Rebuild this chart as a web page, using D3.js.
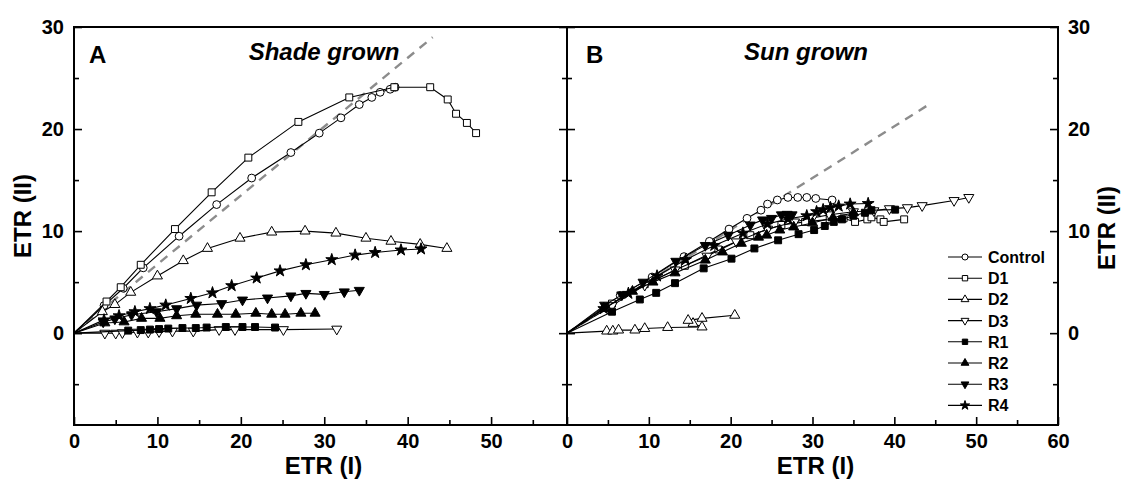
<!DOCTYPE html>
<html>
<head>
<meta charset="utf-8">
<script src="https://cdn.jsdelivr.net/npm/d3@7"></script>
<style>
  body { margin: 0; background: #fff; }
  svg { display: block; font-family: "Liberation Sans", Arial, sans-serif; font-weight: bold; }
</style>
</head>
<body>
<svg id="chart" width="1123" height="482"></svg>
<script>
// ---- data (ETR(I), ETR(II)) ----
const seriesNames = ["Control", "D1", "D2", "D3", "R1", "R2", "R3", "R4"];

// Shade grown (panel A)
const shadeControl = [[0,0],[3.6,2.7],[5.9,4.4],[8.3,6.4],[12.6,9.5],[17.1,12.6],[21.3,15.2],[26.0,17.7],[29.4,19.6],[32.0,21.1],[34.2,22.4],[35.7,23.1],[36.7,23.6],[37.9,23.9],[38.5,24.1]];
const shadeD1 = [[0,0],[3.9,3.1],[5.6,4.5],[8.0,6.7],[12.1,10.2],[16.5,13.8],[20.9,17.2],[26.9,20.7],[33.0,23.1],[38.4,24.1],[42.7,24.1],[44.8,22.9],[45.8,21.5],[47.1,20.6],[48.2,19.6]];
const shadeD2 = [[0,0],[3.4,2.1],[4.9,2.8],[6.8,4.0],[10.0,5.6],[13.1,7.1],[16.0,8.3],[19.9,9.3],[23.7,9.9],[27.7,10.0],[31.4,9.8],[35.0,9.3],[38.0,9.0],[41.5,8.7],[44.7,8.3]];
const shadeD3 = [[0,0],[3.7,0.0],[5.0,0.0],[5.8,0.05],[7.6,0.1],[8.9,0.1],[10.2,0.15],[11.8,0.2],[14.3,0.2],[17.4,0.35],[19.3,0.35],[25.1,0.35],[31.5,0.4]];
const shadeR1 = [[0,0],[6.5,0.25],[8.0,0.3],[9.1,0.35],[10.2,0.4],[11.3,0.45],[13.0,0.5],[14.6,0.5],[15.9,0.55],[18.2,0.6],[20.2,0.6],[21.7,0.6],[24.1,0.55]];
const shadeR2 = [[0,0],[3.7,1.0],[6.0,1.1],[8.1,1.45],[10.3,1.45],[12.3,1.7],[14.6,1.85],[17.2,1.85],[19.4,1.85],[21.8,1.95],[23.7,1.85],[25.3,1.85],[27.2,1.95],[28.9,1.95]];
const shadeR3 = [[0,0],[3.5,1.1],[4.9,1.4],[6.9,1.8],[9.9,2.1],[12.3,2.4],[14.7,2.75],[17.7,2.9],[20.2,3.25],[23.2,3.45],[26.0,3.65],[27.8,3.9],[30.0,3.8],[32.4,4.05],[34.2,4.2]];
const shadeR4 = [[0,0],[3.6,1.3],[5.4,1.7],[7.3,2.1],[9.1,2.4],[11.0,2.75],[14.0,3.4],[16.6,3.95],[18.9,4.65],[21.9,5.4],[24.7,6.1],[27.8,6.7],[30.9,7.2],[33.7,7.65],[36.1,7.9],[39.2,8.15],[41.6,8.25]];

// Sun grown (panel B)
const sunControl = [[0,0],[6.5,3.7],[10.4,5.5],[14.3,7.5],[17.4,9.0],[19.8,10.2],[22.0,11.25],[23.7,12.05],[24.5,12.65],[25.7,13.05],[27.0,13.3],[28.2,13.3],[29.3,13.3],[30.4,13.2],[32.4,13.05]];
const sunD1 = [[0,0],[5.5,2.9],[9.5,4.8],[14.4,6.6],[18.5,8.2],[22.4,9.6],[26.2,10.6],[29.1,10.9],[32.1,11.15],[33.8,11.25],[35.2,10.9],[36.7,11.15],[37.2,11.35],[38.3,11.15],[38.7,10.9],[41.2,11.15]];
const sunD2 = [[0,0],[4.85,0.2],[5.6,0.2],[6.3,0.3],[8.3,0.3],[9.5,0.45],[12.3,0.55],[16.5,0.6],[15.4,0.95],[14.8,1.25],[16.5,1.45],[20.5,1.75]];
const sunD3 = [[0,0],[5.5,2.7],[9.5,4.7],[13.2,6.2],[17.1,7.55],[20.7,8.95],[24.5,10.2],[27.8,10.9],[30.0,11.3],[32.1,11.6],[35.0,11.9],[37.5,12.0],[39.4,12.2],[41.6,12.3],[43.4,12.5],[47.3,13.0],[49.1,13.3]];
const sunR1 = [[0,0],[5.5,2.1],[8.9,3.3],[10.9,3.95],[13.2,4.9],[16.7,6.35],[20.1,7.3],[22.9,8.3],[25.8,9.1],[28.3,9.7],[30.2,10.1],[31.5,10.5],[32.6,10.9],[33.6,11.15],[35.0,11.5],[36.4,11.8],[37.2,12.05],[40.1,12.1]];
const sunR2 = [[0,0],[4.5,2.4],[8.0,4.1],[10.5,5.0],[13.2,5.9],[16.9,7.15],[19.0,7.95],[21.3,8.8],[23.4,9.4],[24.4,9.6],[26.0,10.1],[27.7,10.4],[30.0,10.8],[32.5,11.3],[35.0,11.8]];
const sunR3 = [[0,0],[4.6,2.75],[6.7,3.75],[9.3,5.0],[13.3,7.05],[16.9,8.6],[19.7,9.6],[22.4,10.6],[23.9,11.1],[25.0,11.25],[26.2,11.6],[26.9,11.65],[27.5,11.6]];
const sunR4 = [[0,0],[4.5,2.4],[7.5,3.9],[11.0,5.6],[14.5,7.2],[18.0,8.6],[21.5,9.8],[24.5,10.7],[27.0,11.2],[29.3,11.5],[30.5,11.9],[31.3,12.1],[32.2,12.3],[33.2,12.45],[34.6,12.65],[36.8,12.7]];

// reference lines (dashed)
const shadeRef = [[0,0],[43.0,29.0]];
const sunRef = [[0,0],[44.6,22.6]];

const xTicksA = [0,10,20,30,40,50];
const xTicksB = [0,10,20,30,40,50,60];
const xMinor = [5,15,25,35,45,55];
const yTicks = [0,10,20,30];
const yMinor = [-5,5,15,25];

// ---- layout ----
const svg = d3.select("#chart");
const TOP = 27, BOTTOM = 425;
const y = d3.scaleLinear().domain([-9, 30]).range([BOTTOM, TOP]);
const xA = d3.scaleLinear().domain([0, 59.1]).range([74, 567]);
const xB = d3.scaleLinear().domain([0, 60]).range([567, 1058]);

// marker styles per series
const styles = {
  Control: { type: d3.symbolCircle,   size: 48, fill: "#fff", rot: 0 },
  D1:      { type: d3.symbolSquare,   size: 48, fill: "#fff", rot: 0 },
  D2:      { type: d3.symbolTriangle, size: 44, fill: "#fff", rot: 0 },
  D3:      { type: d3.symbolTriangle, size: 44, fill: "#fff", rot: 180 },
  R1:      { type: d3.symbolSquare,   size: 48, fill: "#000", rot: 0 },
  R2:      { type: d3.symbolTriangle, size: 44, fill: "#000", rot: 0 },
  R3:      { type: d3.symbolTriangle, size: 44, fill: "#000", rot: 180 },
  R4:      { type: d3.symbolStar,     size: 44, fill: "#000", rot: 0 }
};

const panels = [
  { x: xA, ticks: xTicksA, ref: shadeRef, letter: "A", title: "Shade grown", letterX: 89, titleX: 324,
    data: [shadeControl, shadeD1, shadeD2, shadeD3, shadeR1, shadeR2, shadeR3, shadeR4] },
  { x: xB, ticks: xTicksB, ref: sunRef, letter: "B", title: "Sun grown", letterX: 586, titleX: 806,
    data: [sunControl, sunD1, sunD2, sunD3, sunR1, sunR2, sunR3, sunR4] }
];

panels.forEach((p, pi) => {
  const x = p.x;
  const [x0, x1] = x.range();
  const g = svg.append("g");

  // dashed reference line
  g.append("path")
    .attr("d", d3.line().x(d => x(d[0])).y(d => y(d[1]))(p.ref))
    .attr("fill", "none")
    .attr("stroke", "#8c8c8c")
    .attr("stroke-width", 2.4)
    .attr("stroke-dasharray", "9,7");

  // series: line then markers
  seriesNames.forEach((name, si) => {
    const pts = p.data[si];
    const st = styles[name];
    g.append("path")
      .attr("d", d3.line().x(d => x(d[0])).y(d => y(d[1]))(pts))
      .attr("fill", "none")
      .attr("stroke", "#000")
      .attr("stroke-width", 1.1);
    g.selectAll(null)
      .data(pts.slice(1))
      .join("path")
      .attr("transform", d => `translate(${x(d[0])},${y(d[1])}) rotate(${st.rot})`)
      .attr("d", d3.symbol().type(st.type).size(st.size))
      .attr("fill", st.fill)
      .attr("stroke", "#000")
      .attr("stroke-width", 1);
  });

  // frame
  g.append("rect")
    .attr("x", x0).attr("y", TOP)
    .attr("width", x1 - x0).attr("height", BOTTOM - TOP)
    .attr("fill", "none").attr("stroke", "#000").attr("stroke-width", 2);

  // x axis (ticks inward)
  g.append("g").attr("transform", `translate(0,${BOTTOM})`)
    .call(d3.axisBottom(x).tickValues(p.ticks).tickSize(-8).tickPadding(9).tickFormat(d3.format("d")));
  g.append("g").attr("transform", `translate(0,${BOTTOM})`)
    .call(d3.axisBottom(x).tickValues(xMinor).tickSize(-5).tickFormat(""));

  // y axes on both sides, labels only on outer edges
  g.append("g").attr("transform", `translate(${x0},0)`)
    .call(d3.axisLeft(y).tickValues(yTicks).tickSize(-8).tickPadding(10)
      .tickFormat(pi === 0 ? d3.format("d") : ""));
  g.append("g").attr("transform", `translate(${x0},0)`)
    .call(d3.axisLeft(y).tickValues(yMinor).tickSize(-5).tickFormat(""));
  g.append("g").attr("transform", `translate(${x1},0)`)
    .call(d3.axisRight(y).tickValues(yTicks).tickSize(-8).tickPadding(10)
      .tickFormat(pi === 1 ? d3.format("d") : ""));
  g.append("g").attr("transform", `translate(${x1},0)`)
    .call(d3.axisRight(y).tickValues(yMinor).tickSize(-5).tickFormat(""));

  g.selectAll(".domain").remove();
  g.selectAll(".tick line").attr("stroke", "#000").attr("stroke-width", 1.6);
  g.selectAll(".tick text")
    .attr("fill", "#000")
    .style("font-family", "\"Liberation Sans\", Arial, sans-serif")
    .style("font-weight", "bold")
    .style("font-size", "20px");

  // panel letter and title
  g.append("text").attr("x", p.letterX).attr("y", 63)
    .style("font-size", "24px").text(p.letter);
  g.append("text").attr("x", p.titleX).attr("y", 60)
    .attr("text-anchor", "middle")
    .style("font-size", "24px").style("font-style", "italic")
    .text(p.title);

  // x title
  g.append("text").attr("x", (x0 + x1) / 2 + 3).attr("y", 474)
    .attr("text-anchor", "middle").style("font-size", "24px").text("ETR (I)");
});

// y titles
svg.append("text")
  .attr("transform", "translate(31,216) rotate(-90)")
  .attr("text-anchor", "middle").style("font-size", "24px").text("ETR (II)");
svg.append("text")
  .attr("transform", "translate(1115,228) rotate(-90)")
  .attr("text-anchor", "middle").style("font-size", "24px").text("ETR (II)");

// legend
const legend = svg.append("g").attr("transform", "translate(948,257)");
seriesNames.forEach((name, i) => {
  const st = styles[name];
  const row = legend.append("g").attr("transform", `translate(0,${i * 21.2})`);
  row.append("line").attr("x1", 0).attr("x2", 34).attr("y1", 0).attr("y2", 0)
    .attr("stroke", "#000").attr("stroke-width", 1.1);
  row.append("path")
    .attr("transform", `translate(17,0) rotate(${st.rot})`)
    .attr("d", d3.symbol().type(st.type).size(st.size * 0.6))
    .attr("fill", st.fill).attr("stroke", "#000").attr("stroke-width", 1);
  row.append("text").attr("x", 40).attr("y", 6)
    .style("font-size", "16px").text(name);
});
</script>
</body>
</html>
